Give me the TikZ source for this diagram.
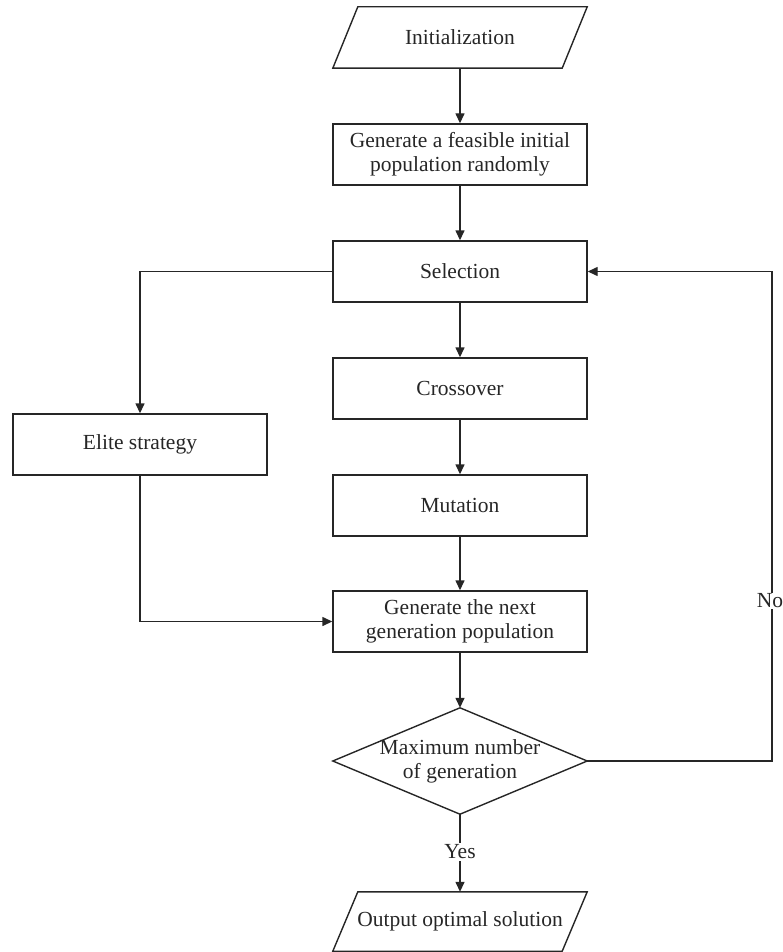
\documentclass[tikz,border=0pt]{standalone}
\usepackage{fontspec}
\setmainfont{Liberation Serif}
\usetikzlibrary{arrows.meta}
\definecolor{ink}{gray}{0.15}
\begin{document}
\begin{tikzpicture}[x=1pt,y=-1pt,
  every node/.style={font=\fontsize{21.5}{24}\selectfont, text=ink, align=center},
  procbox/.style={draw=ink, line width=1.4pt, minimum width=254pt, minimum height=61pt, inner sep=0pt},
  ghost/.style={minimum width=254pt, minimum height=61pt, inner sep=0pt},
  shapeline/.style={draw=ink, line width=1.4pt, line join=miter},
  conn/.style={draw=ink, line width=1.4pt, -{Triangle[length=10pt,width=9pt]}},
  lbl/.style={fill=white, inner sep=2pt}]
\useasboundingbox (0,0) rectangle (783,952);

% parallelogram: Initialization
\node[ghost] (init) at (460,37.5) {Initialization};
\draw[shapeline] ([xshift=25pt]init.north west) -- (init.north east) -- ([xshift=-25pt]init.south east) -- (init.south west) -- cycle;

\node[procbox] (gen0) at (460,154.5) {Generate a feasible initial\\population randomly};
\node[procbox] (sel) at (460,271.5) {Selection};
\node[procbox] (cross) at (460,388.5) {Crossover};
\node[procbox] (mut) at (460,505.5) {Mutation};
\node[procbox] (elite) at (140,444.5) {Elite strategy};
\node[procbox] (gen) at (460,621.5) {Generate the next\\generation population};

% diamond
\node[minimum width=254pt, minimum height=106pt, inner sep=0pt] (dia) at (460,761) {Maximum number\\of generation};
\draw[shapeline] (dia.north) -- (dia.east) -- (dia.south) -- (dia.west) -- cycle;

% parallelogram: output
\node[minimum width=254pt, minimum height=59pt, inner sep=0pt] (out) at (460,921.5) {Output optimal solution};
\draw[shapeline] ([xshift=25pt]out.north west) -- (out.north east) -- ([xshift=-25pt]out.south east) -- (out.south west) -- cycle;

% connectors
\draw[conn] (init.south) -- (gen0.north);
\draw[conn] (gen0.south) -- (sel.north);
\draw[conn] (sel.south) -- (cross.north);
\draw[conn] (cross.south) -- (mut.north);
\draw[conn] (mut.south) -- (gen.north);
\draw[conn] (gen.south) -- (dia.north);
\draw[conn] (sel.west) -| (elite.north);
\draw[conn] (elite.south) |- (gen.west);
\draw[conn] (dia.south) -- (out.north);
\coordinate (loopc) at (772,761);
\draw[conn] (dia.east) -- (loopc) |- (sel.east);

% labels
\node[lbl] (yes) at (460,852) {Yes};
\node[lbl, inner sep=1pt] (no) at (770,601) {No};
\end{tikzpicture}
\end{document}
